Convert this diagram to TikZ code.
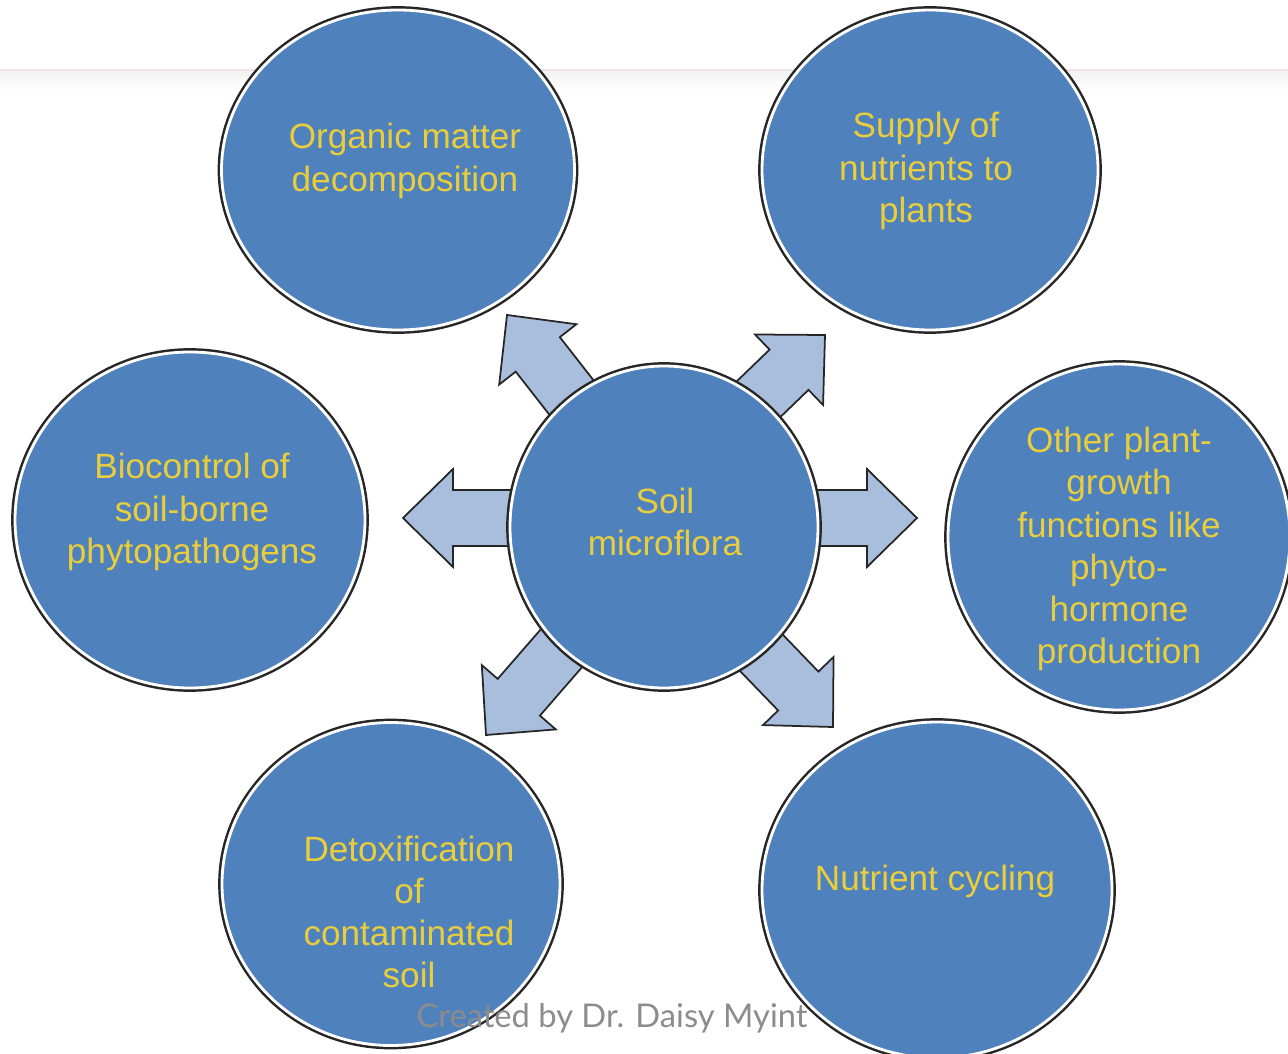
\documentclass[tikz,border=0pt]{standalone}
\usepackage{fontspec}
\setmainfont{Liberation Sans}
\newfontfamily\signfont{Lato}
\usetikzlibrary{shapes.geometric}

\definecolor{bubblue}{HTML}{4F81BD}
\definecolor{labelgold}{HTML}{E8CD3C}
\definecolor{arrowfill}{HTML}{A9BDDC}
\definecolor{arrowline}{HTML}{262626}
\definecolor{ruleline}{HTML}{F2E2E2}

\tikzset{
  bubble/.style={ellipse, fill=bubblue, draw=white, line width=0.8pt,
    preaction={draw=black!85, line width=2.2pt}, inner sep=0pt},
  bubtext/.style={text=labelgold, align=center, font=\fontsize{10}{12}\selectfont},
  % block arrow, tip at the origin, pointing along +x
  pics/blockarrow/.style={code={
    \draw[fill=arrowfill, draw=arrowline, line width=0.5pt, line join=miter]
      (0,0) -- (-0.5,0.49) -- (-0.5,0.28) -- (-#1,0.28) -- (-#1,-0.28)
      -- (-0.5,-0.28) -- (-0.5,-0.49) -- cycle;
  }}
}

\begin{document}
\begin{tikzpicture}
  \useasboundingbox (0,0) rectangle (12.88,10.53);

  % faint rule across the top
  \shade[top color=black!5, bottom color=white] (0,9.82) rectangle (12.88,9.62);
  \draw[ruleline, line width=0.7pt] (0,9.83) -- (12.88,9.83);

  % arrows out of the centre
  \pic[rotate=180] at (4.03,5.35) {blockarrow=1.35};
  \pic at (9.17,5.35) {blockarrow=1.35};
  \pic[rotate=128] at (5.07,7.38) {blockarrow=1.35};
  \pic[rotate=44] at (8.25,7.18) {blockarrow=1.35};
  \pic[rotate=229] at (4.86,3.18) {blockarrow=1.35};
  \pic[rotate=-46] at (8.33,3.26) {blockarrow=1.35};

  \node[bubble, minimum width=3.08cm, minimum height=3.22cm,
    label={[bubtext, shift={(0.01,0.05)}]center:Soil\\microflora}] (soil) at (6.64,5.26) {};

  \node[bubble, minimum width=3.53cm, minimum height=3.20cm,
    label={[bubtext, shift={(0.07,0.09)}]center:Organic matter\\decomposition}] (organic) at (3.98,8.83) {};
  \node[bubble, minimum width=3.36cm, minimum height=3.20cm,
    label={[bubtext, shift={(-0.04,-0.01)}]center:Supply of\\nutrients to\\plants}] (supply) at (9.30,8.83) {};
  \node[bubble, minimum width=3.50cm, minimum height=3.36cm,
    label={[bubtext, shift={(0.02,0.08)}]center:Biocontrol of\\soil-borne\\phytopathogens}] (biocontrol) at (1.90,5.33) {};
  \node[bubble, minimum width=3.42cm, minimum height=3.46cm,
    label={[bubtext, shift={(0,-0.12)}]center:Other plant-\\growth\\functions like\\phyto-\\hormone\\production}] (growth) at (11.19,5.16) {};
  \node[bubble, minimum width=3.38cm, minimum height=3.23cm,
    label={[bubtext, shift={(0.18,-0.28)}]center:Detoxification\\of\\contaminated\\soil}] (detox) at (3.91,1.69) {};
  \node[bubble, minimum width=3.50cm, minimum height=3.36cm,
    label={[bubtext, shift={(-0.02,0.09)}]center:Nutrient cycling}] (cycling) at (9.37,1.63) {};

  \node[text=black!45, font=\signfont\fontsize{9.3}{11}\selectfont] (credit) at (6.12,0.35)
    {Created by Dr. Daisy Myint};
\end{tikzpicture}
\end{document}
